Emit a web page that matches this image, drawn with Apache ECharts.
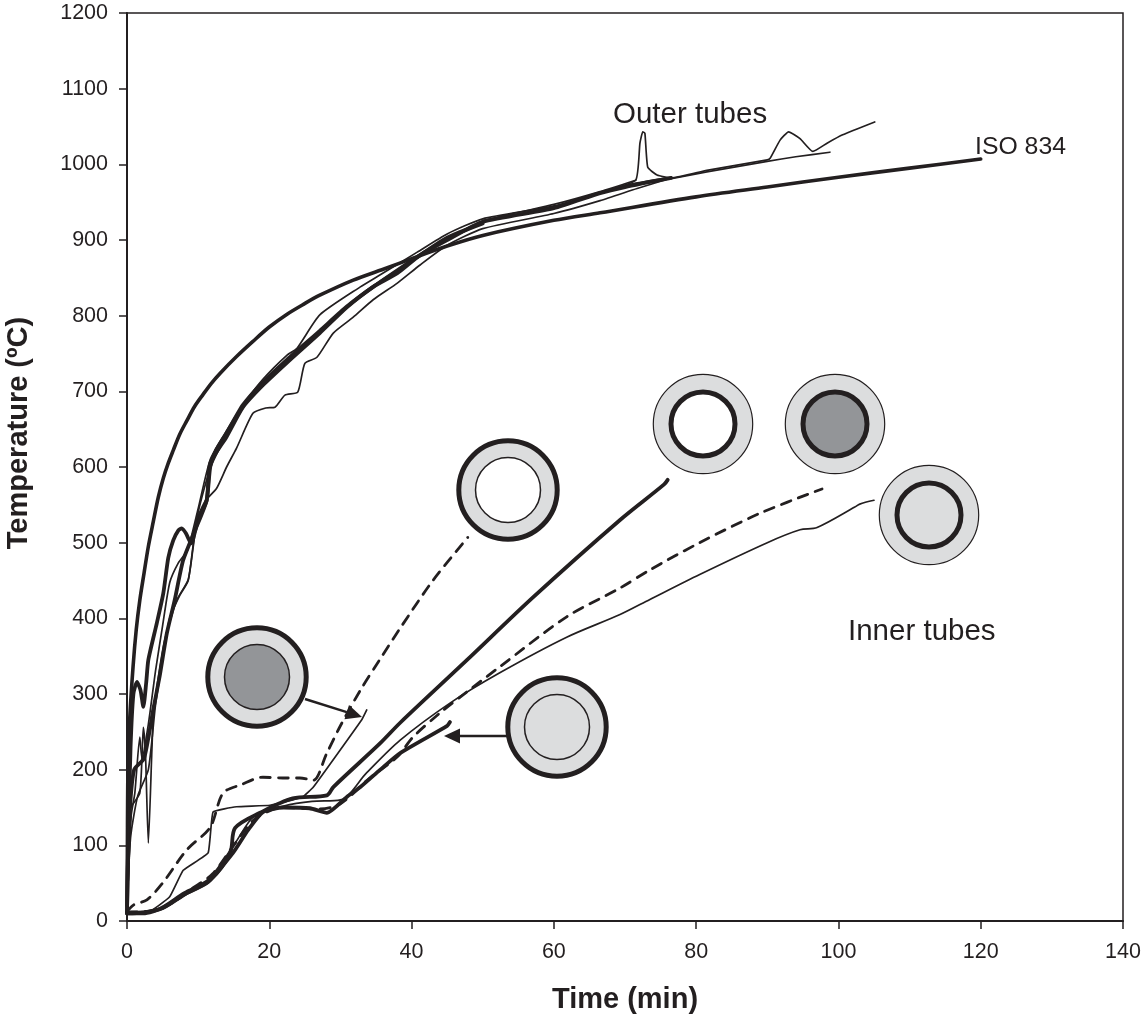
<!DOCTYPE html>
<html><head><meta charset="utf-8">
<style>html,body{margin:0;padding:0;background:#fff}#c{width:1145px;height:1016px}</style>
<script src="https://cdn.jsdelivr.net/npm/echarts@6/dist/echarts.min.js"></script></head>
<body><div id="c"></div>
<script>
const xTicks = [0,20,40,60,80,100,120,140];
const yTicks = [0,100,200,300,400,500,600,700,800,900,1000,1100,1200];
const iso834 = [[0,20],[0.05,90],[0.14,203],[0.4,270],[0.85,336],[1.3,385],[1.8,424],[2.4,460],[3,495],[3.7,528],[4.4,560],[5.1,585],[5.8,605],[6.5,622],[7.4,643],[8.4,661],[9.5,680],[10.7,696],[11.8,710],[13.1,724],[15.4,746],[17.7,766],[20,785],[22.5,802],[24.8,815],[27.1,827],[31.8,847],[36.5,863],[40.2,876],[45,892],[50,906],[60,926],[66.5,936],[80,957],[90,970],[100,983],[110,995],[120,1007]];
const outerBump = [[0,12],[0.2,120],[0.5,230],[0.9,300],[1.4,316],[1.9,305],[2.3,283],[2.7,315],[3,345],[4.2,394],[5.1,433],[5.8,480],[6.5,503],[7.2,516],[7.7,519],[8.3,512],[9,499],[10,530],[11.2,556],[11.7,600],[12.5,622],[14,645],[16.3,682],[19.1,712],[22.5,742],[27.1,780],[30.9,812],[34.6,838],[38,860],[41.2,880],[45,903],[50,922]];
const outerMid = [[0,12],[0.3,130],[1,200],[2.4,215],[3.7,280],[4.6,324],[5.6,380],[6.7,424],[7.9,477],[9.6,517],[11.2,556],[11.7,605],[14,640],[16.3,679],[19.1,708],[22.5,738],[27.1,777],[30.9,811],[34.6,838],[38,856],[41.2,880],[45,900],[50,924],[60,942],[66.5,962],[70,970],[76.5,982]];
const outerLow = [[0,12],[0.5,110],[1.5,165],[3,200],[4,285],[5,345],[6,400],[7.4,430],[8.6,450],[9.8,530],[11,555],[12.6,572],[14,600],[15.4,625],[17.7,671],[19.5,678],[20.8,679],[22.2,695],[24,699],[25,737],[26.7,745],[29,777],[31.8,798],[34.6,821],[38,843],[41.2,867],[45,893],[50,915],[60,935],[66.5,952],[71.7,968],[76.5,982]];
const outerHigh = [[0,12],[0.6,140],[1.1,169],[1.8,243],[2.1,215],[3,260],[4,330],[5,390],[6,447],[7.2,473],[8.5,490],[10,545],[11.7,610],[14,648],[16.3,682],[19.1,716],[22.5,748],[23.9,757],[27.1,801],[32.8,838],[35.6,854],[40.8,884],[45,908],[50,928],[60,945],[70,972],[76.5,983]];
const outerSpikeDown = [[0,12],[0.4,147],[1.8,169],[2.3,256],[2.6,220],[3,103],[3.5,226],[3.7,270],[4.4,322],[5.3,371],[7,424],[8.6,451],[9.3,494],[10,540],[11.7,598],[14,642],[16.3,678],[20,720],[25,762],[30,805],[35,842],[40,872],[45,900],[50,925],[60,947],[66.5,964],[71.5,979]];
const outerSpikeUp = [[50,926],[60,944],[66.5,963],[71.5,979],[72.1,1028],[72.5,1043],[72.8,1041],[73.2,996],[74.5,986],[76.5,982],[81.5,992],[90,1006],[90.4,1008],[91.8,1032],[93,1043],[94.6,1034],[96.4,1017],[98.4,1028],[100.6,1039],[105.1,1056]];
const outerLong = [[76.5,981],[81.5,990],[90,1004],[94,1010],[98.8,1016]];
const innerThick = [[0,10],[2.3,11],[5,17],[8.4,37],[11.7,54],[14.5,90],[15.2,123],[18.7,143],[23.3,162],[28.1,166],[29,177],[35.6,235],[38.4,262],[47.8,345],[57.1,428],[69.3,530],[75.5,577],[76,583]];
const innerDashed = [[0,12],[3,13],[6,22],[9,42],[12,62],[15,100],[18,135],[22,150],[27,148],[30,155],[34,188],[38,217],[40.2,243],[44,275],[47.8,303],[52.4,336],[61.8,402],[69.3,440],[73.5,464],[80.5,500],[89,539],[97.7,571]];
const innerThin = [[0,12],[4,15],[8,38],[11.5,56],[15,100],[18,140],[22,152],[26,158],[30,160],[33.7,196],[38.4,239],[45.4,288],[52.4,328],[61.8,375],[69.3,405],[73.5,425],[80.5,458],[90,500],[94.6,517],[97,520],[102.3,547],[103,551],[105,556]];
const innerLowThick = [[0,10],[2.3,10],[5,17],[8,35],[11.2,50],[14.9,90],[17,120],[19.1,144],[22,150],[25.7,149],[28.1,143],[30.9,164],[32.8,177],[35.6,200],[38.4,222],[45,258],[45.4,263]];
const openDashed = [[0,12],[0.9,21],[2.8,28],[5,50],[8.4,94],[11.7,124],[13.5,169],[16,180],[19.1,190],[21.9,189],[24.3,189],[26.2,186],[28,220],[30,258],[32.8,305],[35.5,345],[38.4,387],[43,450],[47.9,507]];
const fillThin = [[0,12],[3,12],[6,32],[7.9,67],[11.4,90],[12.1,144],[15.4,151],[20.1,153],[24.7,164],[26.2,177],[33,266],[33.7,279]];

const ink = '#231f20';
const thin = 1.7, thick = 3.8;
function line(data, width, dash, smooth){
  return {type:'line',data,symbol:'none',smooth:smooth===undefined?0.2:smooth,silent:true,
    lineStyle:{color:ink,width,type:dash?[10,8]:'solid',cap:'round',join:'round'}};
}
function ring(cx,cy,outerFill,innerFill,outerStroke,innerStroke){
  return [
    {type:'circle',shape:{cx,cy,r:outerStroke>2?49.2:49.7},style:{fill:outerFill,stroke:ink,lineWidth:outerStroke},z:20},
    {type:'circle',shape:{cx,cy,r:innerStroke>2?32:32.5},style:{fill:innerFill,stroke:ink,lineWidth:innerStroke},z:21}
  ];
}
function arrow(x1,y1,x2,y2){
  const a=Math.atan2(y2-y1,x2-x1),L=16,W=7.5;
  const bx=x2-L*Math.cos(a),by=y2-L*Math.sin(a);
  return [
    {type:'line',shape:{x1,y1,x2:bx,y2:by},style:{stroke:ink,lineWidth:2.4},z:22},
    {type:'polygon',shape:{points:[[x2,y2],[bx-W*Math.sin(a),by+W*Math.cos(a)],[bx+W*Math.sin(a),by-W*Math.cos(a)]]},style:{fill:ink},z:22}
  ];
}
function label(text,x,y,size){
  return {type:'text',x,y,style:{text,fill:ink,font:size+'px "Liberation Sans"',textVerticalAlign:'middle'},z:25};
}
const chart = echarts.init(document.getElementById('c'),null,{renderer:'canvas'});
const axisFont = {color:ink,fontFamily:'Liberation Sans',fontSize:21.5,formatter:v=>String(v)};
const nameFont = {color:ink,fontFamily:'Liberation Sans',fontSize:29,fontWeight:'bold'};
chart.setOption({
  animation:false,backgroundColor:'#fff',
  grid:{left:127,right:22,top:13,bottom:95,outerBoundsMode:'none',containLabel:false,show:true,borderColor:ink,borderWidth:1.5,backgroundColor:'transparent'},
  xAxis:{type:'value',min:xTicks[0],max:xTicks[xTicks.length-1],interval:20,name:'Time (min)',nameLocation:'middle',nameGap:64,nameTextStyle:nameFont,
    axisLine:{onZero:false,lineStyle:{color:ink,width:2}},axisTick:{length:8,lineStyle:{color:ink,width:1.5}},axisLabel:{...axisFont,margin:20},splitLine:{show:false}},
  yAxis:{type:'value',min:yTicks[0],max:yTicks[yTicks.length-1],interval:100,name:'Temperature (ºC)',nameLocation:'middle',nameGap:94,nameTextStyle:{...nameFont,padding:[0,0,0,68]},
    axisLine:{onZero:false,lineStyle:{color:ink,width:2}},axisTick:{length:8,lineStyle:{color:ink,width:1.5}},axisLabel:{...axisFont,margin:19},splitLine:{show:false}},
  series:[
    line(iso834,3.6,false,0.3),
    line(outerBump,thick),line(outerMid,thick),line(outerLow,thin),line(outerHigh,thin),line(outerSpikeDown,thin),line(outerSpikeUp,thin,false,0.15),line(outerLong,thin),
    line(innerThick,thick,false,0.3),line(innerDashed,2.8,true,0.3),line(innerThin,thin,false,0.3),line(innerLowThick,thick),line(openDashed,2.8,true,0.3),line(fillThin,thin,false,0.1)
  ],
  graphic:[
    ...ring(508,490,'#dcddde','#ffffff',5,1.5),
    ...ring(257,677,'#dcddde','#939598',5,1.5),
    ...ring(557,727,'#dcddde','#dcddde',5,1.5),
    ...ring(703,424,'#dcddde','#ffffff',1.2,5),
    ...ring(835,424,'#dcddde','#939598',1.2,5),
    ...ring(929,515,'#dcddde','#dcddde',1.2,5),
    ...arrow(305,699,362,717),
    ...arrow(507,736,444,736),
    label('Outer tubes',613,115,29.5),
    label('Inner tubes',848,632,29.5),
    label('ISO 834',975,147,24.8)
  ]
});
</script></body></html>
